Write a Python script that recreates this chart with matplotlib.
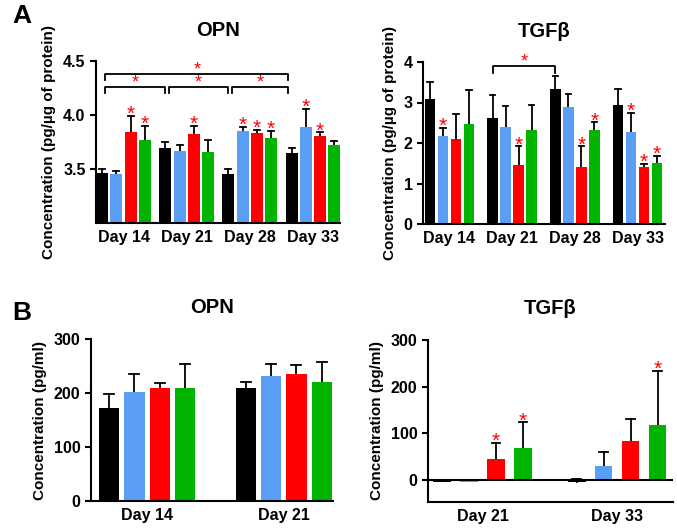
import numpy as np
import matplotlib.pyplot as plt

plt.rcParams['font.family'] = ['Liberation Sans', 'DejaVu Sans']
plt.rcParams['font.weight'] = 'bold'

colors = ['#000000', '#5a9ff5', '#ff0000', '#00b400']

# Panel A - OPN
a_days = ['Day 14', 'Day 21', 'Day 28', 'Day 33']
a_opn_mean = [[3.467, 3.45, 3.84, 3.77],
              [3.69, 3.67, 3.82, 3.66],
              [3.45, 3.85, 3.83, 3.79],
              [3.645, 3.89, 3.81, 3.72]]
a_opn_err = [[0.035, 0.035, 0.15, 0.13],
             [0.06, 0.05, 0.08, 0.11],
             [0.05, 0.04, 0.03, 0.06],
             [0.045, 0.17, 0.03, 0.04]]
a_opn_star = [[0, 0, 1, 1], [0, 0, 1, 0], [0, 1, 1, 1], [0, 1, 1, 0]]

# Panel A - TGFb
a_tgf_mean = [[3.08, 2.17, 2.11, 2.48],
              [2.62, 2.39, 1.45, 2.32],
              [3.33, 2.88, 1.41, 2.32],
              [2.95, 2.26, 1.41, 1.51]]
a_tgf_err = [[0.43, 0.20, 0.60, 0.84],
             [0.56, 0.53, 0.47, 0.61],
             [0.32, 0.32, 0.51, 0.19],
             [0.38, 0.48, 0.07, 0.17]]
a_tgf_star = [[0, 1, 0, 0], [0, 0, 1, 0], [0, 0, 1, 1], [0, 1, 1, 1]]

# Panel B - OPN
b_opn_days = ['Day 14', 'Day 21']
b_opn_mean = [[173, 201, 209, 209], [209, 231, 236, 220]]
b_opn_err = [[26, 34, 10, 44], [12, 23, 15, 38]]

# Panel B - TGFb
b_tgf_days = ['Day 21', 'Day 33']
b_tgf_mean = [[-4, -4, 45, 68], [-4, 30, 82, 117]]
b_tgf_err = [[0, 0, 34, 55], [6, 30, 49, 117]]
b_tgf_star = [[0, 0, 1, 1], [0, 0, 0, 1]]

W, H = 677, 529
fig = plt.figure(figsize=(W / 100, H / 100), dpi=100)


def px_axes(l, t, r, b):
    return fig.add_axes([l / W, 1 - b / H, (r - l) / W, (b - t) / H])


def draw_bars(ax, days, means, errs, stars, pitch, width, xlim, star_pad):
    n = len(days)
    centers = np.arange(n)
    for g in range(n):
        for k in range(4):
            x = centers[g] + (k - 1.5) * pitch
            m = means[g][k]
            e = errs[g][k]
            ax.bar(x, m, width=width, color=colors[k], zorder=2)
            if e > 0:
                ax.plot([x, x], [m, m + e], color='black', lw=1.3, zorder=1)
                ax.plot([x - width * 0.25, x + width * 0.25], [m + e, m + e],
                        color='black', lw=1.3, zorder=1)
            if stars is not None and stars[g][k]:
                ax.annotate('*', (x, m + e), xytext=(0, star_pad), textcoords='offset points',
                            ha='center', va='center', color='red', fontsize=15,
                            fontweight='normal')
    ax.set_xticks(centers)
    ax.set_xticklabels(days, fontsize=11.5, fontweight='bold')
    ax.set_xlim(*xlim)
    ax.tick_params(axis='x', length=0, pad=5)
    ax.tick_params(axis='y', labelsize=11.5, width=1.5, length=4)
    for lab in ax.get_yticklabels():
        lab.set_fontweight('bold')
    for s in ['top', 'right']:
        ax.spines[s].set_visible(False)
    for s in ['left', 'bottom']:
        ax.spines[s].set_linewidth(1.5)
    return centers


def bracket(ax, x1, x2, y, drop):
    ax.plot([x1, x1, x2, x2], [y - drop, y, y, y - drop], color='black', lw=1.3)
    ax.annotate('*', ((x1 + x2) / 2, y), xytext=(0, 3), textcoords='offset points',
                ha='center', va='center', color='red', fontsize=13, fontweight='normal')


ylab_a = 'Concentration (pg/µg of protein)'
ylab_b = 'Concentration (pg/ml)'

# A - OPN
ax1 = px_axes(96, 61, 340, 223)
draw_bars(ax1, a_days, a_opn_mean, a_opn_err, a_opn_star, 0.225, 0.19, (-0.437, 3.43), 1)
ax1.set_ylim(3.0, 4.5)
ax1.set_yticks([3.5, 4.0, 4.5])
ax1.set_yticklabels(['3.5', '4.0', '4.5'], fontweight='bold')
ax1.set_ylabel(ylab_a, fontsize=11, fontweight='bold', labelpad=5)
ax1.set_title('OPN', fontsize=14.5, fontweight='bold', pad=18)
bl = lambda g: g - 1.5 * 0.225
bracket(ax1, bl(0) + 0.05, bl(3) - 0.05, 4.38, 0.06)
bracket(ax1, bl(0) + 0.05, bl(1), 4.26, 0.06)
bracket(ax1, bl(1) + 0.05, bl(2), 4.26, 0.06)
bracket(ax1, bl(2) + 0.05, bl(3) - 0.05, 4.26, 0.06)

# A - TGFb
ax2 = px_axes(423, 62, 665, 224)
draw_bars(ax2, a_days, a_tgf_mean, a_tgf_err, a_tgf_star, 0.207, 0.17, (-0.42, 3.436), 1)
ax2.set_ylim(0, 4)
ax2.set_yticks([0, 1, 2, 3, 4])
ax2.set_ylabel(ylab_a, fontsize=11, fontweight='bold', labelpad=5)
ax2.set_title('TGFβ', fontsize=14.5, fontweight='bold', pad=18)
bl2 = lambda g: g - 1.5 * 0.207
bracket(ax2, bl2(1), bl2(2), 3.90, 0.17)

# B - OPN
ax3 = px_axes(91, 339, 333, 501)
draw_bars(ax3, b_opn_days, b_opn_mean, b_opn_err, None, 0.185, 0.148, (-0.41, 1.36), 1)
ax3.set_ylim(0, 300)
ax3.set_yticks([0, 100, 200, 300])
ax3.set_ylabel(ylab_b, fontsize=11, fontweight='bold', labelpad=5)
ax3.set_title('OPN', fontsize=14.5, fontweight='bold', pad=19)

# B - TGFb
ax4 = px_axes(428, 340, 673, 502)
draw_bars(ax4, b_tgf_days, b_tgf_mean, b_tgf_err, b_tgf_star, 0.2, 0.13, (-0.405, 1.415), 1)
ax4.set_ylim(-48, 300)
ax4.set_yticks([0, 100, 200, 300])
ax4.axhline(0, color='black', lw=1.5, zorder=3)
ax4.set_ylabel(ylab_b, fontsize=11, fontweight='bold', labelpad=5)
ax4.set_title('TGFβ', fontsize=14.5, fontweight='bold', pad=19)

fig.text(12 / W, 1 - 16 / H, 'A', fontsize=19, fontweight='bold', va='center', ha='left')
fig.text(12 / W, 1 - 313 / H, 'B', fontsize=19, fontweight='bold', va='center', ha='left')

fig.savefig('out.png', dpi=100)
